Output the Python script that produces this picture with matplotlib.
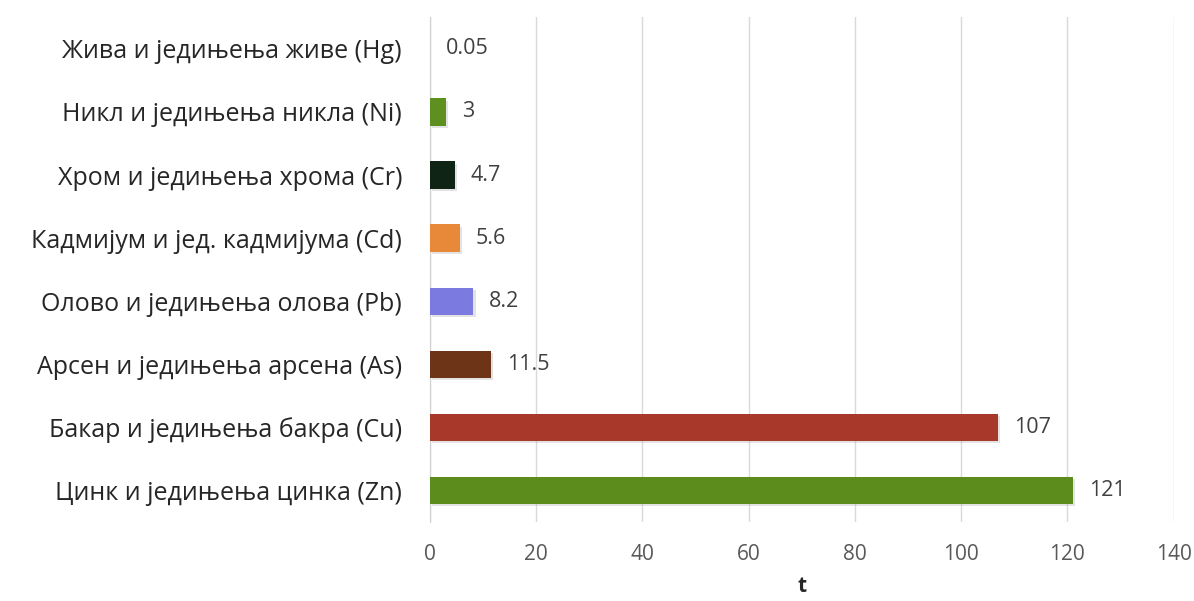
import numpy as np
import matplotlib.pyplot as plt

labels = ["Цинк и једињења цинка (Zn)", "Бакар и једињења бакра (Cu)",
          "Арсен и једињења арсена (As)", "Олово и једињења олова (Pb)",
          "Кадмијум и јед. кадмијума (Cd)", "Хром и једињења хрома (Cr)",
          "Никл и једињења никла (Ni)", "Жива и једињења живе (Hg)"]
values = [121, 107, 11.5, 8.2, 5.6, 4.7, 3, 0.05]
value_text = ["121", "107", "11.5", "8.2", "5.6", "4.7", "3", "0.05"]
colors = ["#5b8c1c", "#a8392a", "#6e3418", "#7b7ae0", "#e8893a", "#0f2414", "#5e9020", "#9aa0a8"]

plt.rcParams['font.family'] = ['Open Sans', 'DejaVu Sans']

fig = plt.figure(figsize=(11.94, 6.01), dpi=100)
ax = fig.add_axes([0.360, 0.132, 0.623, 0.839])

y = np.arange(len(labels))
# soft shadow under each bar
ax.barh(y - 0.04, values, height=0.43, left=0.4, color="#b0b0b0", alpha=0.35, zorder=2)
ax.barh(y, values, height=0.43, color=colors, zorder=3)

for i, v in enumerate(values):
    ax.text(v + 3, y[i], value_text[i], va="center", ha="left", fontsize=15.5, color="#404040")

ax.set_xlim(0, 140)
ax.set_ylim(-0.5, len(labels) - 0.5)
ax.set_xticks(np.arange(0, 141, 20))
ax.set_yticks(y)
ax.set_yticklabels(labels, fontsize=18, color="#262626")
ax.tick_params(axis="x", labelsize=15, labelcolor="#595959", length=0, pad=16)
ax.tick_params(axis="y", length=0, pad=20)
ax.grid(axis="x", color="#d9d9d9", linewidth=1, zorder=0)
for s in ["top", "right", "bottom"]:
    ax.spines[s].set_visible(False)
ax.spines["left"].set_color("#d0d0d0")
ax.set_xlabel("t", fontsize=15, fontweight="bold", color="#262626", labelpad=8)

fig.savefig("out.png", dpi=100)
